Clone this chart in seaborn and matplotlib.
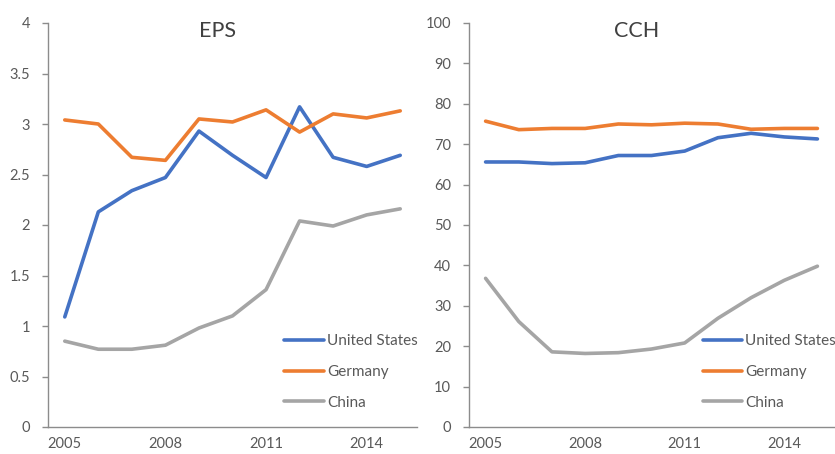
import pandas as pd
import matplotlib
matplotlib.use("Agg")
import matplotlib.pyplot as plt
import seaborn as sns
from matplotlib.ticker import FixedLocator

years = list(range(2005, 2016))
countries = ["United States", "Germany", "China"]

eps_us = [1.09, 2.13, 2.34, 2.47, 2.93, 2.69, 2.47, 3.17, 2.67, 2.58, 2.69]
eps_de = [3.04, 3.00, 2.67, 2.64, 3.05, 3.02, 3.14, 2.92, 3.10, 3.06, 3.13]
eps_cn = [0.85, 0.77, 0.77, 0.81, 0.98, 1.10, 1.36, 2.04, 1.99, 2.10, 2.16]

cch_us = [65.6, 65.6, 65.2, 65.4, 67.2, 67.2, 68.3, 71.6, 72.7, 71.8, 71.3]
cch_de = [75.7, 73.6, 73.9, 73.9, 75.0, 74.8, 75.2, 75.0, 73.7, 73.9, 73.9]
cch_cn = [36.8, 26.1, 18.6, 18.2, 18.4, 19.3, 20.8, 26.9, 32.0, 36.3, 39.8]

year_labels = [2005, 2008, 2011, 2014]
palette = {"United States": "#4472C4", "Germany": "#ED7D31", "China": "#A5A5A5"}
text_col = "#595959"
axis_col = "#8C8C8C"


def to_long(us, de, cn):
    frames = []
    for name, vals in zip(countries, [us, de, cn]):
        frames.append(pd.DataFrame({"year": years, "value": vals, "country": name}))
    return pd.concat(frames, ignore_index=True)


sns.set_style("white")
plt.rcParams["font.family"] = ["Lato", "DejaVu Sans"]

fig = plt.figure(figsize=(8.35, 4.54), dpi=100)
ax1 = fig.add_axes([48 / 835, 27 / 454, 369 / 835, 404 / 454])
ax2 = fig.add_axes([469 / 835, 27 / 454, 365 / 835, 404 / 454])

panels = [
    (ax1, to_long(eps_us, eps_de, eps_cn), "EPS", 4, [0, 0.5, 1, 1.5, 2, 2.5, 3, 3.5, 4]),
    (ax2, to_long(cch_us, cch_de, cch_cn), "CCH", 100, list(range(0, 101, 10))),
]

for ax, df, title, ymax, yticks in panels:
    sns.lineplot(data=df, x="year", y="value", hue="country", palette=palette,
                 linewidth=2.6, ax=ax, legend=False)
    ax.set_xlim(2004.5, 2015.5)
    ax.set_ylim(0, ymax)
    ax.set_yticks(yticks)
    ax.set_yticklabels([f"{t:g}" for t in yticks])
    ax.set_xticks(year_labels)
    ax.set_xticklabels([str(y) for y in year_labels])
    ax.xaxis.set_minor_locator(FixedLocator([y + 0.5 for y in range(2004, 2016)]))
    ax.tick_params(axis="x", which="major", length=0, pad=7, labelsize=10.5, labelcolor=text_col)
    ax.tick_params(axis="x", which="minor", length=4, width=1, color=axis_col, direction="out")
    ax.tick_params(axis="y", length=4, width=1, color=axis_col, pad=9, labelsize=10.5,
                   labelcolor=text_col, left=True)
    ax.set_xlabel("")
    ax.set_ylabel("")
    for side in ["top", "right"]:
        ax.spines[side].set_visible(False)
    for side in ["left", "bottom"]:
        ax.spines[side].set_color(axis_col)
        ax.spines[side].set_linewidth(1)
    ax.text(0.46, 1.005, title, transform=ax.transAxes, ha="center", va="top",
            fontsize=15.5, color="#404040")
    handles = [plt.Line2D([], [], color=palette[c], linewidth=2.6) for c in countries]
    ax.legend(handles, countries, loc="upper left", bbox_to_anchor=(0.64, 0.23),
              frameon=False, fontsize=11, labelcolor=text_col, handlelength=2.6,
              handletextpad=0.2, labelspacing=1.1, borderpad=0, borderaxespad=0)

fig.savefig("out.png", dpi=100)
